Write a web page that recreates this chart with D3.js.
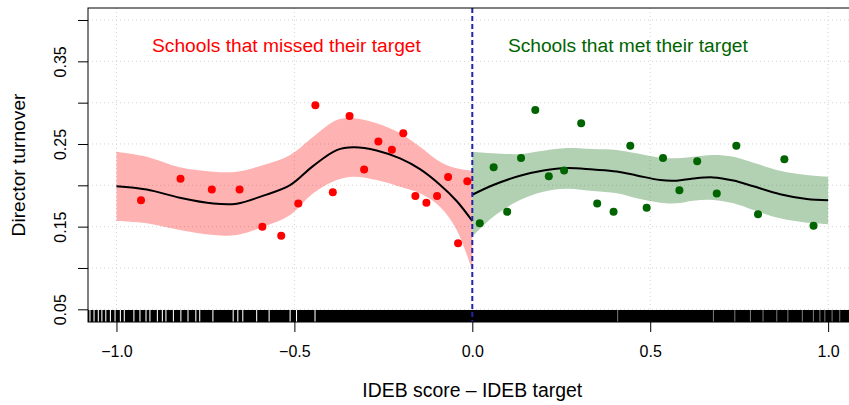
<!DOCTYPE html>
<html>
<head>
<meta charset="utf-8">
<script src="https://cdn.jsdelivr.net/npm/d3@7"></script>
<style>
  html, body { margin: 0; padding: 0; background: #fff; }
  svg { display: block; font-family: "Liberation Sans", Arial, Helvetica, sans-serif; }
</style>
</head>
<body>
<svg id="chart" width="849" height="405"></svg>
<script>
// Binned director turnover by distance to the IDEB target
const missedX = [-0.931, -0.820, -0.732, -0.654, -0.590, -0.537, -0.489, -0.441, -0.392, -0.345,
                 -0.304, -0.264, -0.226, -0.194, -0.160, -0.129, -0.099, -0.068, -0.040, -0.014];
const missedY = [0.182, 0.208, 0.195, 0.195, 0.150, 0.139, 0.178, 0.297, 0.1915, 0.284,
                 0.219, 0.253, 0.243, 0.263, 0.187, 0.179, 0.187, 0.210, 0.130, 0.205];
const metX = [0.021, 0.060, 0.098, 0.137, 0.177, 0.215, 0.258, 0.306, 0.351, 0.397,
              0.444, 0.490, 0.536, 0.582, 0.632, 0.687, 0.742, 0.803, 0.877, 0.959];
const metY = [0.154, 0.222, 0.168, 0.233, 0.291, 0.211, 0.218, 0.275, 0.178, 0.168,
              0.248, 0.173, 0.233, 0.194, 0.229, 0.190, 0.248, 0.165, 0.2315, 0.151];

// Local regression fit with confidence band, left of the cutoff
const missedFitX = [-1.0, -0.915, -0.822, -0.728, -0.662, -0.587, -0.512, -0.447, -0.381, -0.334,
                    -0.269, -0.203, -0.147, -0.091, -0.044, 0.0];
const missedFit = [0.199, 0.195, 0.185, 0.178, 0.1778, 0.1875, 0.2002, 0.2235, 0.2426, 0.246,
                   0.2422, 0.2325, 0.2195, 0.2007, 0.181, 0.1568];
const missedUpper = [0.2407, 0.2346, 0.2218, 0.2165, 0.2165, 0.2246, 0.2367, 0.2588, 0.279, 0.2811,
                     0.275, 0.263, 0.2467, 0.2286, 0.2206, 0.2177];
const missedLower = [0.1568, 0.154, 0.146, 0.1399, 0.1399, 0.1499, 0.1641, 0.1903, 0.2064, 0.2104,
                     0.2064, 0.1983, 0.1903, 0.1741, 0.146, 0.0965];

// Local regression fit with confidence band, right of the cutoff
const metFitX = [0.0, 0.059, 0.134, 0.2, 0.265, 0.34, 0.406, 0.462, 0.528, 0.574,
                 0.621, 0.677, 0.734, 0.790, 0.865, 0.940, 1.0];
const metFit = [0.1886, 0.2004, 0.2115, 0.2178, 0.2209, 0.219, 0.2167, 0.212, 0.2063, 0.2056,
                0.2083, 0.2096, 0.2058, 0.1988, 0.1893, 0.1835, 0.1819];
const metUpper = [0.2407, 0.2387, 0.2379, 0.2419, 0.2451, 0.2439, 0.2427, 0.2387, 0.2334, 0.2327,
                  0.2346, 0.2367, 0.2346, 0.2274, 0.2177, 0.2125, 0.2104];
const metLower = [0.1378, 0.162, 0.1822, 0.1923, 0.1959, 0.1931, 0.1903, 0.1843, 0.179, 0.1782,
                  0.1814, 0.1822, 0.1782, 0.1701, 0.1601, 0.1548, 0.1532];

// Distribution of school scores (rug): covered span and empty spots
const rugSpan = [-1.10, 1.65];
const rugGaps = [-1.0745, -1.063, -1.051, -1.041, -1.030, -1.017, -1.004, -0.989, -0.978, -0.951,
                 -0.934, -0.917, -0.906, -0.885, -0.871, -0.861, -0.840, -0.819, -0.799, -0.777,
                 -0.766, -0.729, -0.672, -0.659, -0.645, -0.606, -0.571, -0.512, -0.494, -0.442];
const rugThinGaps = [0.409, 0.677, 0.738, 0.781, 0.817, 0.856, 0.887, 0.927, 0.958, 0.977, 0.991, 1.011, 1.033];

const xTicks = [-1.0, -0.5, 0.0, 0.5, 1.0];
const yTicks = [0.05, 0.10, 0.15, 0.20, 0.25, 0.30, 0.35, 0.40];
const yLabelled = [0.05, 0.15, 0.25, 0.35];
const cutoff = 0;

const labels = {
  missed: "Schools that missed their target",
  met: "Schools that met their target",
  xTitle: "IDEB score \u2013 IDEB target",
  yTitle: "Director turnover"
};

// Layout
const plot = { left: 88, top: 8, right: 856.6, bottom: 322 };
const svg = d3.select("#chart");

const x = d3.scaleLinear().domain([-1.08, 1.08]).range([plot.left, plot.right]);
const y = d3.scaleLinear().domain([0.05, 0.40]).range([309.3, 20]);

svg.append("defs").append("clipPath").attr("id", "plotClip")
  .append("rect")
  .attr("x", plot.left).attr("y", plot.top)
  .attr("width", plot.right - plot.left).attr("height", plot.bottom - plot.top);

const inner = svg.append("g").attr("clip-path", "url(#plotClip)");

// Dotted grid
inner.append("g").selectAll("line").data(xTicks).join("line")
  .attr("x1", d => x(d)).attr("x2", d => x(d))
  .attr("y1", plot.top).attr("y2", plot.bottom)
  .attr("stroke", "#d3d3d3").attr("stroke-width", 1).attr("stroke-dasharray", "1,3");
inner.append("g").selectAll("line").data(yTicks).join("line")
  .attr("x1", plot.left).attr("x2", plot.right)
  .attr("y1", d => y(d)).attr("y2", d => y(d))
  .attr("stroke", "#d3d3d3").attr("stroke-width", 1).attr("stroke-dasharray", "1,3");

// Confidence bands
const band = d3.area()
  .x(d => x(d.x)).y0(d => y(d.lo)).y1(d => y(d.hi))
  .curve(d3.curveCatmullRom.alpha(0.5));
const fitLine = d3.line()
  .x(d => x(d.x)).y(d => y(d.fit))
  .curve(d3.curveCatmullRom.alpha(0.5));

const missedCurve = missedFitX.map((v, i) => ({ x: v, fit: missedFit[i], lo: missedLower[i], hi: missedUpper[i] }));
const metCurve = metFitX.map((v, i) => ({ x: v, fit: metFit[i], lo: metLower[i], hi: metUpper[i] }));

inner.append("path").datum(missedCurve).attr("d", band)
  .attr("fill", "#ff0000").attr("fill-opacity", 0.3);
inner.append("path").datum(metCurve).attr("d", band)
  .attr("fill", "#006400").attr("fill-opacity", 0.3);

// Fitted lines
inner.append("path").datum(missedCurve).attr("d", fitLine)
  .attr("fill", "none").attr("stroke", "#000").attr("stroke-width", 2);
inner.append("path").datum(metCurve).attr("d", fitLine)
  .attr("fill", "none").attr("stroke", "#000").attr("stroke-width", 2);

// Binned means
inner.append("g").selectAll("circle").data(missedX.map((v, i) => [v, missedY[i]])).join("circle")
  .attr("cx", d => x(d[0])).attr("cy", d => y(d[1])).attr("r", 4)
  .attr("fill", "#ff0000");
inner.append("g").selectAll("circle").data(metX.map((v, i) => [v, metY[i]])).join("circle")
  .attr("cx", d => x(d[0])).attr("cy", d => y(d[1])).attr("r", 4)
  .attr("fill", "#006400");

// Rug of school scores, drawn as runs between empty spots
const gaps = rugGaps.map(g => [g, 0.0015])
  .concat(rugThinGaps.map(g => [g, 0.0007]))
  .sort((a, b) => a[0] - b[0]);
const runs = [];
let start = rugSpan[0];
gaps.forEach(([g, half]) => {
  runs.push([start, g - half]);
  start = g + half;
});
runs.push([start, rugSpan[1]]);
inner.append("g").selectAll("rect").data(runs).join("rect")
  .attr("x", d => x(d[0])).attr("width", d => Math.max(0, x(d[1]) - x(d[0])))
  .attr("y", plot.bottom - 12).attr("height", 12)
  .attr("fill", "#000");

// Cutoff line
inner.append("line")
  .attr("x1", x(cutoff)).attr("x2", x(cutoff))
  .attr("y1", plot.top).attr("y2", plot.bottom)
  .attr("stroke", "#2323a8").attr("stroke-width", 2).attr("stroke-dasharray", "5,3");

// Group annotations
svg.append("text").attr("x", x(-0.9)).attr("y", 51.5)
  .attr("fill", "#ff0000").attr("font-size", "19.2px").attr("text-anchor", "start")
  .text(labels.missed);
svg.append("text").attr("x", x(0.1)).attr("y", 51.5)
  .attr("fill", "#006400").attr("font-size", "19.2px").attr("text-anchor", "start")
  .text(labels.met);

// Plot frame
svg.append("rect")
  .attr("x", plot.left).attr("y", plot.top)
  .attr("width", plot.right - plot.left).attr("height", plot.bottom - plot.top)
  .attr("fill", "none").attr("stroke", "#000").attr("stroke-width", 1);

// Axes
const xAxis = svg.append("g").attr("transform", `translate(0,${plot.bottom})`)
  .call(d3.axisBottom(x).tickValues(xTicks).tickSize(10).tickFormat(d3.format(".1f")));
xAxis.select(".domain").remove();
xAxis.selectAll(".tick line").attr("stroke", "#000");
xAxis.selectAll(".tick text")
  .attr("y", 35.3).attr("dy", 0)
  .attr("fill", "#000").attr("font-size", "16px")
  .attr("font-family", "Liberation Sans, Arial, sans-serif");

const yAxis = svg.append("g").attr("transform", `translate(${plot.left},0)`)
  .call(d3.axisLeft(y).tickValues(yTicks).tickSize(10)
    .tickFormat(d => yLabelled.some(v => Math.abs(v - d) < 1e-9) ? d3.format(".2f")(d) : ""));
yAxis.select(".domain").remove();
yAxis.selectAll(".tick line").attr("stroke", "#000");
yAxis.selectAll(".tick text")
  .attr("x", 0).attr("y", 0).attr("dy", 0)
  .attr("text-anchor", "middle")
  .attr("transform", "translate(-22,0) rotate(-90)")
  .attr("fill", "#000").attr("font-size", "16px")
  .attr("font-family", "Liberation Sans, Arial, sans-serif");

// Axis titles
svg.append("text").attr("x", x(0)).attr("y", 396.7)
  .attr("text-anchor", "middle").attr("font-size", "19.4px").attr("fill", "#000")
  .text(labels.xTitle);
svg.append("text")
  .attr("transform", `translate(25,${(plot.top + plot.bottom) / 2}) rotate(-90)`)
  .attr("text-anchor", "middle").attr("font-size", "19.2px").attr("fill", "#000")
  .text(labels.yTitle);
</script>
</body>
</html>
